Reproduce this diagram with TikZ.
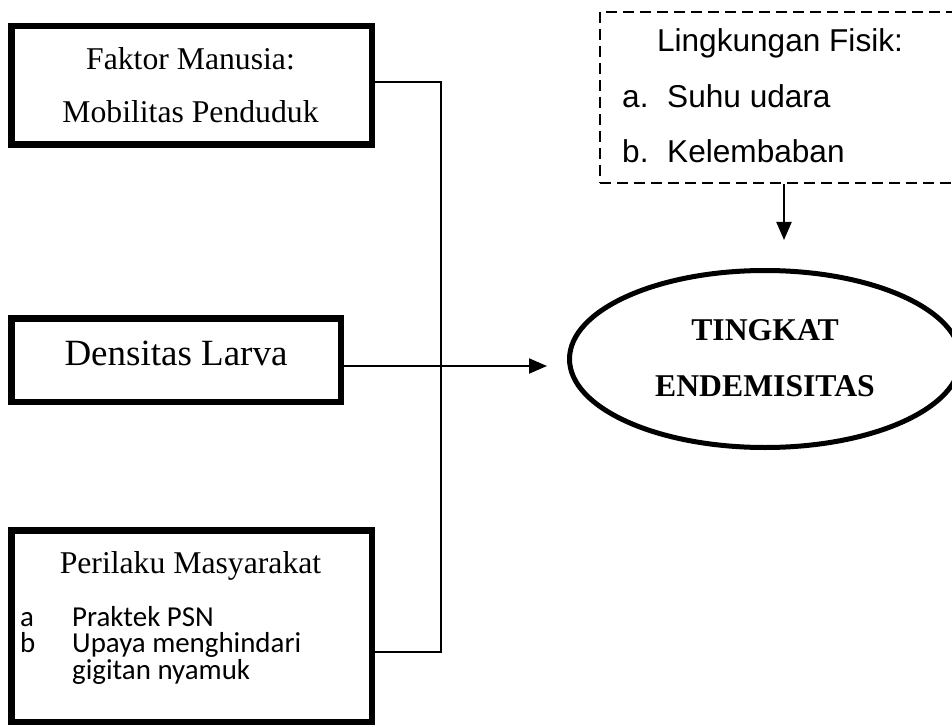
\documentclass[tikz,border=0pt]{standalone}
\usepackage{fontspec}
\setmainfont{Liberation Serif}
\newfontfamily\arialf{Liberation Sans}
\newfontfamily\calibrif{Carlito}
\usetikzlibrary{arrows.meta,shapes.geometric}
\begin{document}
\begin{tikzpicture}[x=1pt,y=-1pt,
  thickbox/.style={draw, line width=6.5pt, rectangle, inner sep=0pt},
  conn/.style={line width=1.5pt},
  arr/.style={line width=2pt, -{Triangle[length=18pt,width=15pt]}},
  sertxt/.style={font=\fontsize{31.7}{38}\selectfont, inner sep=0pt, anchor=base},
  bigtxt/.style={font=\fontsize{37}{44}\selectfont, inner sep=0pt, anchor=base},
  boldtxt/.style={font=\bfseries\fontsize{31.7}{38}\selectfont, inner sep=0pt, anchor=base},
  sanstxt/.style={font=\arialf\fontsize{31.6}{38}\selectfont, inner sep=0pt},
  caltxt/.style={font=\calibrif\fontsize{28.9}{34}\selectfont, inner sep=0pt,
    text height=18pt, text depth=4pt, anchor=base west}
]
\useasboundingbox (0,0) rectangle (952,727);
\clip (0,0) rectangle (952,727);

% boxes
\node[thickbox, minimum width=360.5pt, minimum height=118.5pt] (fm) at (191.5,85.5) {};
\node[thickbox, minimum width=329.5pt, minimum height=83.5pt] (dl) at (176,360) {};
\node[thickbox, minimum width=360.5pt, minimum height=191.5pt] (pm) at (191.5,626) {};
\node[draw, ellipse, line width=5pt, minimum width=391pt, minimum height=177pt, inner sep=0pt] (te) at (765,359) {};
\node[draw, rectangle, line width=2pt, dash pattern=on 11pt off 6pt, minimum width=365pt, minimum height=171pt, inner sep=0pt] (lf) at (782.5,97.5) {};

% texts
\node[sertxt] (t1) at (190.5,69.5) {Faktor Manusia:};
\node[sertxt] (t2) at (190.5,123) {Mobilitas Penduduk};
\node[bigtxt] (t3) at (176,365) {Densitas Larva};
\node[sertxt] (t4) at (190.5,573) {Perilaku Masyarakat};
\node[caltxt] (t5a) at (20,626) {a};
\node[caltxt] (t5) at (72,626) {Praktek PSN};
\node[caltxt] (t6a) at (20,652) {b};
\node[caltxt] (t6) at (72,652) {Upaya menghindari};
\node[caltxt] (t7) at (72,679) {gigitan nyamuk};
\node[boldtxt] (t8) at (765,340) {TINGKAT};
\node[boldtxt] (t9) at (765,396.5) {ENDEMISITAS};
\node[sanstxt, anchor=base] (t10) at (780,52) {Lingkungan Fisik:};
\node[sanstxt, anchor=base west] (t11a) at (622,107.5) {a.};
\node[sanstxt, anchor=base west] (t11) at (667,107.5) {Suhu udara};
\node[sanstxt, anchor=base west] (t12a) at (622,162.5) {b.};
\node[sanstxt, anchor=base west] (t12) at (667,162.5) {Kelembaban};

% connectors
\coordinate (j1) at (441,82);
\coordinate (j2) at (441,652);
\draw[conn] (fm.east |- j1) -- (j1) -- (j2) -- (pm.east |- j2);
\coordinate (ein) at (547,366);
\draw[arr] (dl.east |- ein) -- (ein);
\coordinate (lftip) at (784,240);
\draw[arr] (lf.south -| lftip) -- (lftip);
\end{tikzpicture}
\end{document}
